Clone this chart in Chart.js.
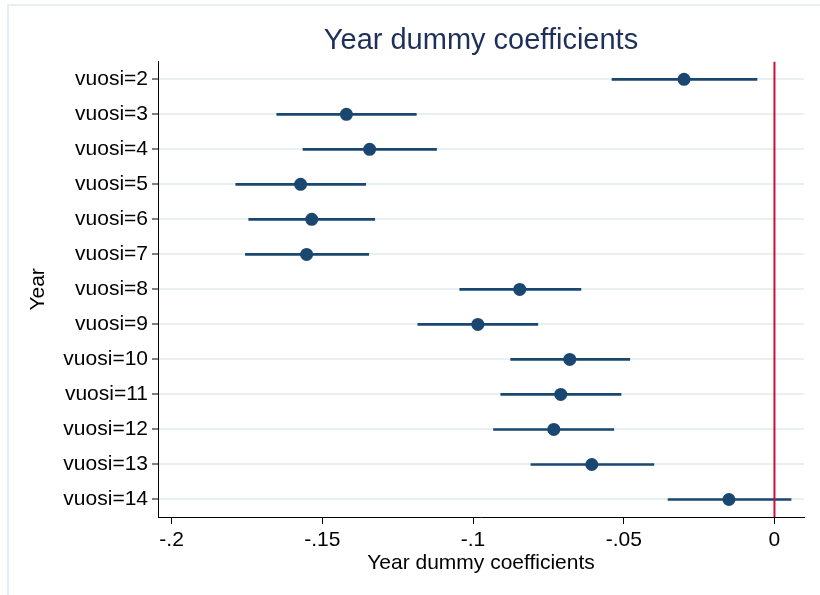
<!DOCTYPE html>
<html>
<head>
<meta charset="utf-8">
<script src="https://cdn.jsdelivr.net/npm/chart.js@4"></script>
<style>
  html, body { margin: 0; padding: 0; background: #fff; }
  #wrap { width: 820px; height: 595px; position: relative; }
</style>
</head>
<body>
<div id="wrap"><canvas id="myChart" width="820" height="595"></canvas></div>
<script>
// categories (top to bottom)
const years = ['vuosi=2', 'vuosi=3', 'vuosi=4', 'vuosi=5', 'vuosi=6', 'vuosi=7', 'vuosi=8',
  'vuosi=9', 'vuosi=10', 'vuosi=11', 'vuosi=12', 'vuosi=13', 'vuosi=14'];
// point estimates
const coef = [-0.0300, -0.1420, -0.1343, -0.1572, -0.1535, -0.1552, -0.0845,
  -0.0984, -0.0679, -0.0709, -0.0732, -0.0606, -0.0151];
// 95% confidence bounds
const ciLow = [-0.0539, -0.1651, -0.1564, -0.1787, -0.1744, -0.1755, -0.1044,
  -0.1183, -0.0875, -0.0908, -0.0932, -0.0808, -0.0353];
const ciHigh = [-0.0058, -0.1188, -0.1121, -0.1356, -0.1326, -0.1346, -0.0642,
  -0.0785, -0.0480, -0.0509, -0.0533, -0.0400, 0.0055];
// x axis ticks
const xTicks = [-0.2, -0.15, -0.1, -0.05, 0];
const xTickLabels = ['-.2', '-.15', '-.1', '-.05', '0'];

const navy = '#1a476f';

// faint outer frame + red reference line at zero
const framePlugin = {
  id: 'frame',
  beforeDraw(chart) {
    const c = chart.ctx;
    c.save();
    c.strokeStyle = '#e6eef1';
    c.lineWidth = 2;
    c.strokeRect(8, 5, 900, 700);
    c.restore();
  }
};
const zeroLine = {
  id: 'zeroLine',
  afterDatasetsDraw(chart) {
    const c = chart.ctx, xs = chart.scales.x, area = chart.chartArea;
    const px = xs.getPixelForValue(0);
    c.save();
    c.strokeStyle = '#c8103a';
    c.lineWidth = 2;
    c.beginPath();
    c.moveTo(px, area.top);
    c.lineTo(px, area.bottom);
    c.stroke();
    c.restore();
  }
};

const ctx = document.getElementById('myChart').getContext('2d');
new Chart(ctx, {
  type: 'bar',
  data: {
    labels: years,
    datasets: [
      {
        label: 'CI',
        data: years.map((_, i) => [ciLow[i], ciHigh[i]]),
        backgroundColor: navy,
        borderWidth: 0,
        barThickness: 2,
        borderSkipped: false,
        order: 2
      },
      {
        type: 'line',
        label: 'Coefficient',
        data: coef,
        showLine: false,
        pointRadius: 6.5,
        pointHoverRadius: 6.5,
        pointBackgroundColor: navy,
        pointBorderColor: navy,
        pointBorderWidth: 0,
        order: 1
      }
    ]
  },
  options: {
    indexAxis: 'y',
    responsive: false,
    animation: false,
    layout: { padding: { left: 22, right: 16, top: 0, bottom: 0 } },
    plugins: {
      legend: { display: false },
      tooltip: { enabled: false },
      title: {
        display: true,
        fullSize: false,
        text: 'Year dummy coefficients',
        color: '#1e2f5a',
        font: { family: 'Liberation Sans, Arial', size: 29, weight: 'normal' },
        padding: { top: 24, bottom: 3 }
      }
    },
    scales: {
      x: {
        type: 'linear',
        min: -0.2045,
        max: 0.0098,
        afterBuildTicks(scale) { scale.ticks = xTicks.map(v => ({ value: v })); },
        afterFit(scale) { scale.height = 78; },
        ticks: {
          color: '#000',
          font: { family: 'Liberation Sans, Arial', size: 21 },
          padding: 4,
          callback: (v) => xTickLabels[xTicks.indexOf(v)]
        },
        grid: {
          drawOnChartArea: false,
          drawTicks: true,
          tickLength: 7,
          tickColor: '#000'
        },
        border: { color: '#000', width: 1 },
        title: {
          display: true,
          text: 'Year dummy coefficients',
          color: '#000',
          font: { family: 'Liberation Sans, Arial', size: 21 },
          padding: { top: 0, bottom: 19 }
        }
      },
      y: {
        type: 'category',
        offset: true,
        afterFit(scale) { scale.width = 136; },
        ticks: {
          color: '#000',
          font: { family: 'Liberation Sans, Arial', size: 21 },
          padding: 4
        },
        grid: {
          offset: false,
          color: '#e9f0f2',
          lineWidth: 2,
          tickLength: 6,
          tickColor: '#000',
          tickWidth: 1
        },
        border: { color: '#000', width: 1 },
        title: {
          display: true,
          text: 'Year',
          color: '#000',
          font: { family: 'Liberation Sans, Arial', size: 21 },
          padding: { top: 4, bottom: 0 }
        }
      }
    }
  },
  plugins: [framePlugin, zeroLine]
});
</script>
</body>
</html>
